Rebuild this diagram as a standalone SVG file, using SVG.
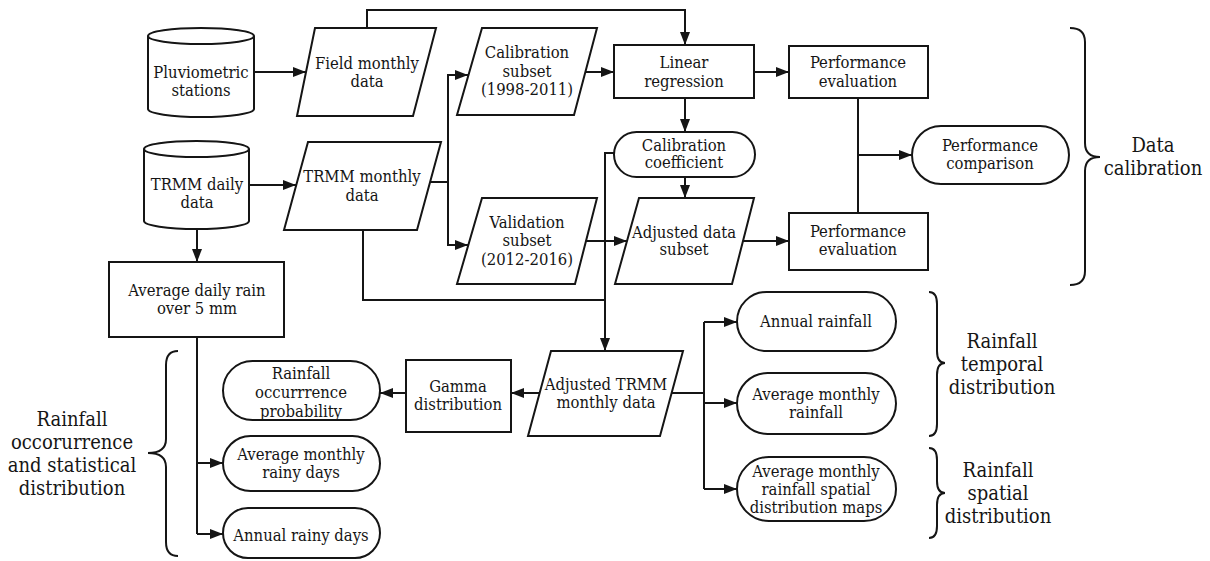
<svg xmlns="http://www.w3.org/2000/svg" width="1210" height="561" viewBox="0 0 1210 561">
<defs>
<style>
.sh{fill:#fff;stroke:#151515;stroke-width:2}
.cn{fill:none;stroke:#151515;stroke-width:2}
.ar{marker-end:url(#ah)}
.br{fill:none;stroke:#151515;stroke-width:2}
text{font-family:"DejaVu Serif","Liberation Serif",serif;font-stretch:condensed;font-size:16.5px;fill:#151515;text-anchor:middle}
.lb{font-size:20px}
</style>
<marker id="ah" markerUnits="userSpaceOnUse" markerWidth="13" markerHeight="10" refX="13" refY="5" orient="auto">
<path d="M0,0 L13,5 L0,10 z" fill="#151515"/>
</marker>
</defs>
<rect width="1210" height="561" fill="#fff"/>

<g id="connectors">
<path class="cn ar" d="M254,72 H306"/>
<path class="cn ar" d="M367,28 V10 H685 V45"/>
<path class="cn ar" d="M249,185 H296"/>
<path class="cn" d="M430,182 H448"/>
<path class="cn ar" d="M448,182 V75 H468"/>
<path class="cn ar" d="M448,182 V245 H468"/>
<path class="cn ar" d="M585,72 H614"/>
<path class="cn ar" d="M754,72 H789"/>
<path class="cn ar" d="M685,98 V132"/>
<path class="cn ar" d="M685,177 V198"/>
<path class="cn ar" d="M586,241 H627"/>
<path class="cn ar" d="M743,241 H789"/>
<path class="cn" d="M858,98 V213"/>
<path class="cn ar" d="M858,155 H912"/>
<path class="cn ar" d="M614,153 H605 V351"/>
<path class="cn" d="M363,230 V300 H605"/>
<path class="cn ar" d="M540,393 H511"/>
<path class="cn ar" d="M406,393 H380"/>
<path class="cn" d="M672,393 H704"/>
<path class="cn" d="M704,322 V489"/>
<path class="cn ar" d="M704,322 H737"/>
<path class="cn ar" d="M704,403 H737"/>
<path class="cn ar" d="M704,489 H737"/>
<path class="cn ar" d="M197,229 V262"/>
<path class="cn" d="M197,337 V534"/>
<path class="cn ar" d="M197,463 H223"/>
<path class="cn ar" d="M197,534 H223"/>
</g>

<g id="pluviometric-stations">
<path class="sh" d="M148,36 A53,8 0 0 1 254,36 V109 A53,8 0 0 1 148,109 Z"/>
<path class="cn" d="M148,36 A53,8 0 0 0 254,36"/>
<text x="201" y="78">Pluviometric</text>
<text x="201" y="96">stations</text>
</g>

<g id="field-monthly-data">
<polygon class="sh" points="315,28 436,28 413,116 297,116"/>
<text x="367" y="69">Field monthly</text>
<text x="367" y="87">data</text>
</g>

<g id="trmm-daily-data">
<path class="sh" d="M144,149 A52.5,8 0 0 1 249,149 V221 A52.5,8 0 0 1 144,221 Z"/>
<path class="cn" d="M144,149 A52.5,8 0 0 0 249,149"/>
<text x="197" y="190">TRMM daily</text>
<text x="197" y="208">data</text>
</g>

<g id="trmm-monthly-data">
<polygon class="sh" points="308,142 441,142 417,230 284,230"/>
<text x="362" y="182">TRMM monthly</text>
<text x="362" y="201">data</text>
</g>

<g id="calibration-subset">
<polygon class="sh" points="482,28 597,28 574,115 457,115"/>
<text x="527" y="58">Calibration</text>
<text x="527" y="77">subset</text>
<text x="527" y="95">(1998-2011)</text>
</g>

<g id="validation-subset">
<polygon class="sh" points="482,198 597,198 575,284 457,284"/>
<text x="527" y="228">Validation</text>
<text x="527" y="246">subset</text>
<text x="527" y="265">(2012-2016)</text>
</g>

<g id="linear-regression">
<rect class="sh" x="614" y="45" width="140" height="53"/>
<text x="684" y="68">Linear</text>
<text x="684" y="87">regression</text>
</g>

<g id="calibration-coefficient">
<rect class="sh" x="614" y="132" width="141" height="45" rx="22.5"/>
<text x="684" y="151">Calibration</text>
<text x="684" y="168">coefficient</text>
</g>

<g id="adjusted-data-subset">
<polygon class="sh" points="639,198 754,198 732,284 615,284"/>
<text x="684" y="238">Adjusted data</text>
<text x="684" y="255">subset</text>
</g>

<g id="performance-evaluation-1">
<rect class="sh" x="789" y="46" width="139" height="52"/>
<text x="858" y="68">Performance</text>
<text x="858" y="87">evaluation</text>
</g>

<g id="performance-evaluation-2">
<rect class="sh" x="789" y="213" width="139" height="57"/>
<text x="858" y="237">Performance</text>
<text x="858" y="255">evaluation</text>
</g>

<g id="performance-comparison">
<rect class="sh" x="912" y="126" width="157" height="58" rx="29"/>
<text x="990" y="151">Performance</text>
<text x="990" y="169">comparison</text>
</g>

<g id="average-daily-rain">
<rect class="sh" x="109" y="262" width="175" height="75"/>
<text x="197" y="296">Average daily rain</text>
<text x="197" y="314">over 5 mm</text>
</g>

<g id="adjusted-trmm-monthly-data">
<polygon class="sh" points="551,351 683,351 660,436 528,436"/>
<text x="606" y="390">Adjusted TRMM</text>
<text x="606" y="408">monthly data</text>
</g>

<g id="gamma-distribution">
<rect class="sh" x="406" y="360" width="105" height="72"/>
<text x="458" y="392">Gamma</text>
<text x="458" y="410">distribution</text>
</g>

<g id="rainfall-occurrence-probability">
<rect class="sh" x="223" y="361" width="157" height="59" rx="29.5"/>
<text x="301" y="379">Rainfall</text>
<text x="301" y="398">occurrrence</text>
<text x="301" y="417">probability</text>
</g>

<g id="average-monthly-rainy-days">
<rect class="sh" x="223" y="436" width="157" height="55" rx="27.5"/>
<text x="301" y="460">Average monthly</text>
<text x="301" y="478">rainy days</text>
</g>

<g id="annual-rainy-days">
<rect class="sh" x="223" y="508" width="157" height="50" rx="25"/>
<text x="301" y="541">Annual rainy days</text>
</g>

<g id="annual-rainfall">
<rect class="sh" x="737" y="292" width="159" height="59" rx="29.5"/>
<text x="816" y="327">Annual rainfall</text>
</g>

<g id="average-monthly-rainfall">
<rect class="sh" x="737" y="373" width="159" height="61" rx="30.5"/>
<text x="816" y="400">Average monthly</text>
<text x="816" y="418">rainfall</text>
</g>

<g id="spatial-distribution-maps">
<rect class="sh" x="737" y="457" width="159" height="64" rx="32"/>
<text x="816" y="477">Average monthly</text>
<text x="816" y="495">rainfall spatial</text>
<text x="816" y="513">distribution maps</text>
</g>

<g id="brace-data-calibration">
<path class="br" d="M1070,28 Q1085,28 1085,42 V143 Q1085,157 1100,157 Q1085,157 1085,171 V271 Q1085,285 1070,285"/>
<text class="lb" x="1153" y="152">Data</text>
<text class="lb" x="1153" y="175">calibration</text>
</g>

<g id="brace-temporal">
<path class="br" d="M929,292 Q937,292 937,304 V351 Q937,363 945,363 Q937,363 937,375 V424 Q937,436 929,436"/>
<text class="lb" x="1002" y="348">Rainfall</text>
<text class="lb" x="1002" y="371">temporal</text>
<text class="lb" x="1002" y="394">distribution</text>
</g>

<g id="brace-spatial">
<path class="br" d="M929,448 Q937,448 937,460 V481 Q937,493 945,493 Q937,493 937,505 V526 Q937,538 929,538"/>
<text class="lb" x="998" y="477">Rainfall</text>
<text class="lb" x="998" y="500">spatial</text>
<text class="lb" x="998" y="523">distribution</text>
</g>

<g id="brace-occurrence">
<path class="br" d="M178,351 Q166,351 166,365 V439 Q166,453 148,453 Q166,453 166,467 V542 Q166,556 178,556"/>
<text class="lb" x="72" y="426">Rainfall</text>
<text class="lb" x="72" y="449">occorurrence</text>
<text class="lb" x="72" y="472">and statistical</text>
<text class="lb" x="72" y="495">distribution</text>
</g>
</svg>
